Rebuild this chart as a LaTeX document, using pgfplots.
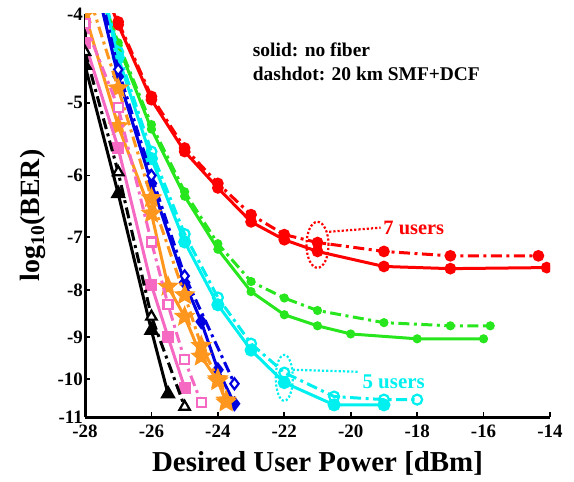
\documentclass[border=0pt]{standalone}
\usepackage{fontspec}
\setmainfont{Liberation Serif}
\usepackage{pgfplots}
\pgfplotsset{compat=1.18}
\usetikzlibrary{plotmarks}
\definecolor{cR}{RGB}{255,0,0}
\definecolor{cG}{RGB}{40,230,30}
\definecolor{cC}{RGB}{0,240,240}
\definecolor{cB}{RGB}{0,0,225}
\definecolor{cO}{RGB}{255,150,30}
\definecolor{cP}{RGB}{245,105,195}
\pgfdeclareplotmark{fstar}{%
  \pgfpathmoveto{\pgfpointpolar{90}{\pgfplotmarksize}}%
  \pgfpathlineto{\pgfpointpolar{126}{0.45\pgfplotmarksize}}%
  \pgfpathlineto{\pgfpointpolar{162}{\pgfplotmarksize}}%
  \pgfpathlineto{\pgfpointpolar{198}{0.45\pgfplotmarksize}}%
  \pgfpathlineto{\pgfpointpolar{234}{\pgfplotmarksize}}%
  \pgfpathlineto{\pgfpointpolar{270}{0.45\pgfplotmarksize}}%
  \pgfpathlineto{\pgfpointpolar{306}{\pgfplotmarksize}}%
  \pgfpathlineto{\pgfpointpolar{342}{0.45\pgfplotmarksize}}%
  \pgfpathlineto{\pgfpointpolar{18}{\pgfplotmarksize}}%
  \pgfpathlineto{\pgfpointpolar{54}{0.45\pgfplotmarksize}}%
  \pgfpathclose
  \pgfusepathqfillstroke
}
\tikzset{
  sl/.style={line width=3bp, solid},
  dd/.style={line width=3bp, dash pattern=on 11bp off 4.5bp on 3bp off 4.5bp},
}
\begin{document}
\begin{tikzpicture}[x=1bp,y=1bp]
\path[use as bounding box] (0,0) rectangle (574,482);
\begin{axis}[
  at={(85bp,65bp)}, anchor=south west,
  width=465bp, height=403bp, scale only axis,
  xmin=-28, xmax=-14,
  ymode=log, ymin=4, ymax=11, y dir=reverse,
  xtick={-28,-26,-24,-22,-20,-18,-16,-14},
  xticklabels={-28,-26,-24,-22,-20,-18,-16,-14},
  ytick={4,5,6,7,8,9,10,11},
  yticklabels={-4,-5,-6,-7,-8,-9,-10,-11},
  yminorticks=false, xminorticks=false,
  axis x line*=bottom, axis y line*=left,
  axis line style={line width=3bp, black},
  tick align=inside, major tick length=5bp,
  tick style={line width=1.8bp, black},
  ticklabel style={font=\fontsize{19}{19}\selectfont\bfseries},
  xticklabel style={inner sep=1bp, yshift=-7bp},
  yticklabel style={inner sep=1bp, xshift=-1bp},
  xlabel={Desired User Power [dBm]},
  ylabel={log\textsubscript{10}(BER)},
  xlabel style={font=\fontsize{29}{29}\selectfont\bfseries, at={(axis description cs:0.5,0)}, anchor=center, yshift=-46bp},
  ylabel style={font=\fontsize{28}{28}\selectfont\bfseries, at={(axis description cs:0,0.5)}, anchor=center, yshift=52bp},
  clip marker paths=true,
]
% ---------- red (7 users)
\addplot[cR, sl, mark=*, mark size=4.3bp, mark options={solid}] table[y expr={-1*(\thisrow{y})}] {
x y
-28 -3.30
-27 -4.11
-26 -4.96
-25 -5.65
-24 -6.19
-23 -6.74
-22 -7.05
-21 -7.26
-19 -7.54
-17 -7.58
-14.1 -7.56
};
\addplot[cR, dd, mark=*, mark size=4.3bp, mark options={solid}] table[y expr={-1*(\thisrow{y})}] {
x y
-28 -3.30
-27 -4.08
-26 -4.92
-25 -5.60
-24 -6.12
-23 -6.62
-22 -6.96
-21 -7.10
-19 -7.26
-17 -7.34
-14.35 -7.34
};
% ---------- green
\addplot[cG, sl, mark=*, mark size=3bp, mark options={solid}] table[y expr={-1*(\thisrow{y})}] {
x y
-28 -3.40
-27 -4.33
-26 -5.34
-25 -6.32
-24 -7.22
-23 -8.03
-22 -8.51
-21 -8.75
-20 -8.93
-18 -9.04
-16 -9.04
};
\addplot[cG, dd, mark=*, mark size=3bp, mark options={solid}] table[y expr={-1*(\thisrow{y})}] {
x y
-28 -3.40
-27 -4.30
-26 -5.28
-25 -6.25
-24 -7.12
-23 -7.83
-22 -8.16
-21 -8.42
-19 -8.68
-17 -8.75
-15.8 -8.75
};
% ---------- cyan (5 users)
\addplot[cC, sl, mark=*, mark size=5bp, mark options={solid}] table[y expr={-1*(\thisrow{y})}] {
x y
-28 -3.20
-27 -4.46
-26 -5.75
-25 -7.09
-24 -8.30
-23 -9.30
-22 -10.09
-20.5 -10.67
-19 -10.67
};
\addplot[cC, dd, mark=o, mark size=5bp, mark options={solid, fill=white, line width=2.2bp}] table[y expr={-1*(\thisrow{y})}] {
x y
-28 -3.15
-27 -4.40
-26 -5.65
-25 -6.95
-24 -8.15
-23 -9.15
-22 -9.84
-20.5 -10.45
-19 -10.53
-18 -10.53
};
% ---------- blue
\addplot[cB, sl, mark=diamond*, mark size=5.5bp, mark options={solid}] table[y expr={-1*(\thisrow{y})}] {
x y
-28 -3.30
-27 -4.68
-26 -6.12
-25 -7.85
-24.5 -8.66
-24 -9.77
-23.5 -10.64
};
\addplot[cB, dd, mark=diamond*, mark size=5.5bp, mark options={solid, fill=white, line width=2.2bp}] table[y expr={-1*(\thisrow{y})}] {
x y
-28 -3.20
-27 -4.60
-26 -6.00
-25 -7.72
-23.5 -10.12
};
% ---------- orange
\addplot[cO, sl, mark=fstar, mark size=7.5bp, mark options={solid}] table[y expr={-1*(\thisrow{y})}] {
x y
-28 -4.00
-27 -5.30
-26 -6.60
-25.5 -7.93
-25 -8.55
-24.5 -9.45
-24 -10.05
-23.75 -10.60
};
\addplot[cO, dd, mark=fstar, mark size=7.5bp, mark options={solid}] table[y expr={-1*(\thisrow{y})}] {
x y
-28 -3.70
-27 -4.82
-26 -6.35
-25 -8.10
-24.5 -9.20
-24 -10.00
-23.75 -10.55
};
% ---------- pink
\addplot[cP, sl, mark=square*, mark size=4.5bp, mark options={solid}] table[y expr={-1*(\thisrow{y})}] {
x y
-28 -4.30
-27 -5.60
-26 -7.90
-25.5 -9.00
-25 -10.22
};
\addplot[cP, dd, mark=square*, mark size=4.5bp, mark options={solid, fill=white, line width=2.2bp}] table[y expr={-1*(\thisrow{y})}] {
x y
-28 -4.10
-27 -5.06
-26 -7.09
-25.5 -8.30
-25 -9.53
-24.5 -10.61
};
% ---------- black
\addplot[black, sl, mark=triangle*, mark size=6bp, mark options={solid}] table[y expr={-1*(\thisrow{y})}] {
x y
-28 -4.55
-27 -6.28
-26 -8.85
-25.5 -10.38
};
\addplot[black, dd, mark=triangle*, mark size=6bp, mark options={solid, fill=white, line width=2.2bp}] table[y expr={-1*(\thisrow{y})}] {
x y
-28 -4.40
-27 -5.95
-26 -8.55
-25 -10.72
};
% ---------- annotations
\node[anchor=north west, align=left, font=\fontsize{19.5}{24}\selectfont\bfseries, inner sep=0pt] at (axis cs:-22.95,4.30) {solid: no fiber\\dashdot: 20 km SMF+DCF};
\draw[cR, line width=2.2bp, dotted] (axis cs:-21,7.14) ellipse [x radius=11bp, y radius=23bp];
\draw[cR, line width=2.2bp, dotted] (axis cs:-20.65,6.91) -- (axis cs:-19.1,6.84);
\node[anchor=west, text=cR, font=\fontsize{20.5}{20.5}\selectfont\bfseries, inner sep=1bp] at (axis cs:-19.05,6.84) {7 users};
\draw[cC, line width=2.2bp, dotted] (axis cs:-22,9.97) ellipse [x radius=8.5bp, y radius=23bp];
\draw[cC, line width=2.2bp, dotted] (axis cs:-21.75,9.77) -- (axis cs:-19.75,9.82);
\node[anchor=west, text=cC, font=\fontsize{21}{21}\selectfont\bfseries, inner sep=1bp] at (axis cs:-19.68,10.07) {5 users};
\end{axis}
\end{tikzpicture}
\end{document}
